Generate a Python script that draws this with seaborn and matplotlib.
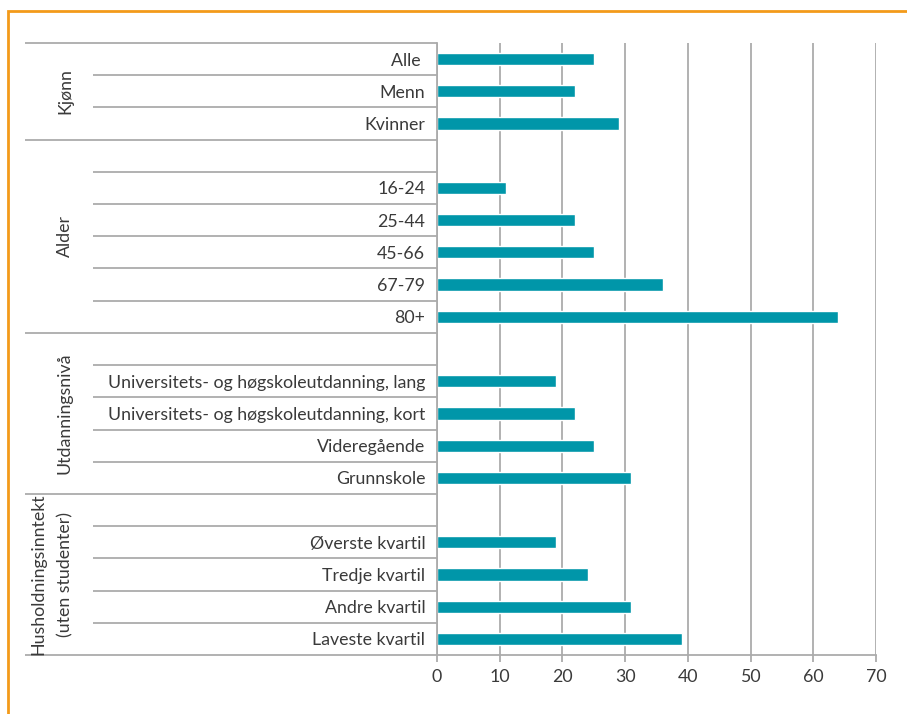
import matplotlib
matplotlib.use("Agg")
import matplotlib.pyplot as plt
import matplotlib.transforms as mtransforms
from matplotlib.patches import Rectangle
import seaborn as sns
import pandas as pd

# Data (per cent)
kjonn_labels = ["Alle ", "Menn", "Kvinner"]
kjonn_values = [25, 22, 29]
alder_labels = ["16-24", "25-44", "45-66", "67-79", "80+"]
alder_values = [11, 22, 25, 36, 64]
utd_labels = ["Universitets- og høgskoleutdanning, lang",
              "Universitets- og høgskoleutdanning, kort",
              "Videregående", "Grunnskole"]
utd_values = [19, 22, 25, 31]
inntekt_labels = ["Øverste kvartil", "Tredje kvartil", "Andre kvartil", "Laveste kvartil"]
inntekt_values = [19, 24, 31, 39]

group_names = ["Kjønn", "Alder", "Utdanningsnivå", "Husholdningsinntekt\n(uten studenter)"]
x_ticks = [0, 10, 20, 30, 40, 50, 60, 70]

groups = [(kjonn_labels, kjonn_values), (alder_labels, alder_values),
          (utd_labels, utd_values), (inntekt_labels, inntekt_values)]

# Build row order, blank spacer row at the start of each group after the first
order = []
rows = []
group_spans = []
for gi, (labels, values) in enumerate(groups):
    start = len(order)
    if gi > 0:
        order.append(" " * gi)
    for lab, val in zip(labels, values):
        order.append(lab)
        rows.append({"label": lab, "value": val})
    group_spans.append((start, len(order) - 1))
df = pd.DataFrame(rows)

sns.set_style("white")
plt.rcParams["font.family"] = ["Lato", "DejaVu Sans"]
text_color = "#3a3a3a"
grid_color = "#ababab"
fs = 12.8

fig = plt.figure(figsize=(9.07, 7.14), dpi=100)
ax = fig.add_axes([437 / 907, 1 - 655 / 714, 439 / 907, 612 / 714])

sns.barplot(data=df, x="value", y="label", order=order, color="#0096a9",
            width=0.38, saturation=1, ax=ax)

ax.set_xlim(0, 70)
ax.set_ylim(len(order) - 0.5, -0.5)
ax.set_xticks(x_ticks)
ax.set_xlabel("")
ax.set_ylabel("")
ax.grid(axis="x", color=grid_color, lw=1.3)
ax.set_axisbelow(True)
for side in ["top", "right"]:
    ax.spines[side].set_visible(False)
for side in ["left", "bottom"]:
    ax.spines[side].set_color(grid_color)
    ax.spines[side].set_linewidth(1.3)
ax.tick_params(axis="x", bottom=True, length=5, color=grid_color, width=1.3,
               labelsize=fs, labelcolor=text_color, pad=5)
ax.tick_params(axis="y", left=False, labelsize=fs, labelcolor=text_color, pad=5)

# Separator lines in the label area
trans = mtransforms.blended_transform_factory(ax.transAxes, ax.transData)
outer_x = (25 - 437) / 439
inner_x = (93 - 437) / 439
group_starts = [s for s, e in group_spans]
for b in range(len(order) + 1):
    y = b - 0.5
    x0 = outer_x if (b in group_starts or b == len(order)) else inner_x
    ax.plot([x0, 0], [y, y], color=grid_color, lw=1.3, transform=trans,
            clip_on=False, solid_capstyle="butt")

# Group labels
for name, (s, e) in zip(group_names, group_spans):
    yc = (s + e) / 2
    if "\n" in name:
        first, second = name.split("\n")
        ax.text((38 - 437) / 439, yc, first, rotation=90, ha="center", va="center",
                fontsize=fs, color=text_color, transform=trans)
        ax.text((65 - 437) / 439, yc, second, rotation=90, ha="center", va="center",
                fontsize=fs, color=text_color, transform=trans)
    else:
        ax.text((65 - 437) / 439, yc, name, rotation=90, ha="center", va="center",
                fontsize=fs, color=text_color, transform=trans)

# Orange frame
fig.patches.append(Rectangle((8 / 907, -0.1), 1.2, 0.1 + 1 - 11 / 714,
                             transform=fig.transFigure, fill=False,
                             edgecolor="#f39a1a", lw=2))

fig.savefig("out.png", dpi=100)
